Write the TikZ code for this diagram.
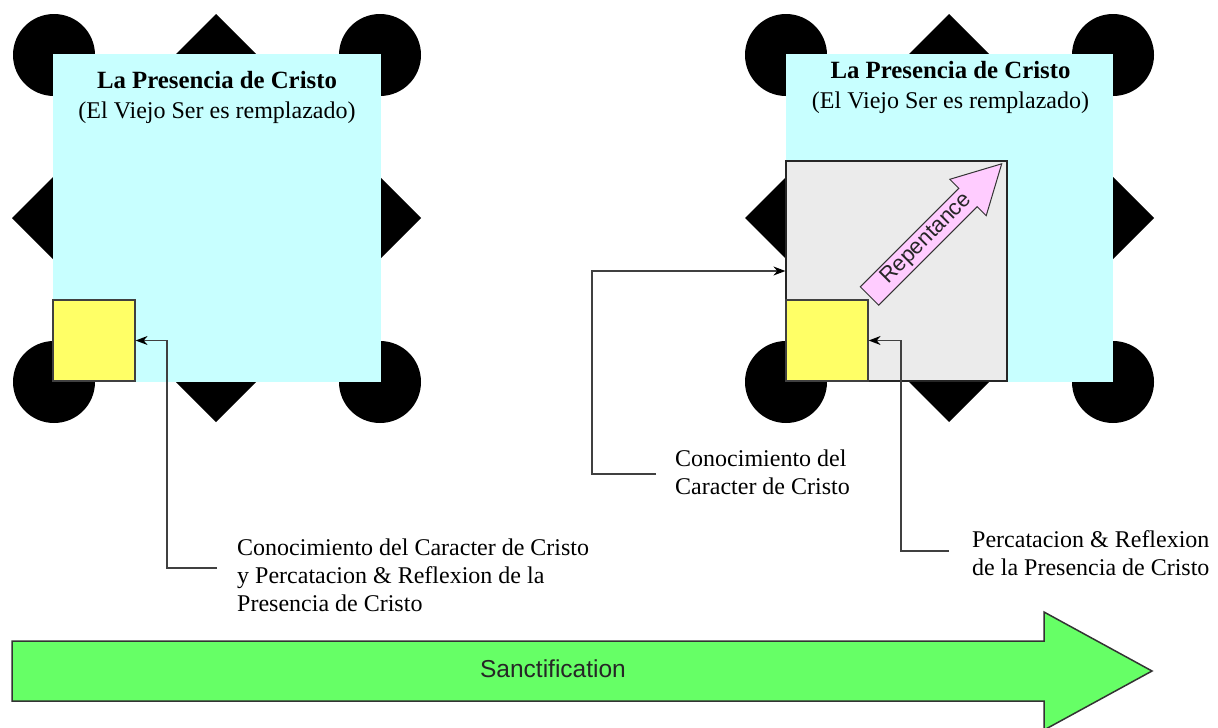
\documentclass[tikz,border=0pt]{standalone}
\usepackage{fontspec}
\setmainfont{Liberation Serif}
\newfontfamily\arialfont{Liberation Sans}
\usetikzlibrary{arrows.meta}
\definecolor{cyanbg}{HTML}{C8FFFF}
\definecolor{yel}{HTML}{FFFF66}
\definecolor{greybox}{HTML}{EBEBEB}
\definecolor{pinkar}{HTML}{FFCCFF}
\definecolor{greenar}{HTML}{66FF66}
\definecolor{lineg}{HTML}{404040}
\tikzset{
  cyanbox/.style={fill=cyanbg, draw=none, minimum width=328pt, minimum height=328pt, inner sep=0pt},
  yelbox/.style={fill=yel, draw=lineg, line width=1.2pt, minimum width=82pt, minimum height=81pt, inner sep=0pt},
  greyrect/.style={fill=greybox, draw=black!85, line width=1.2pt, minimum width=221pt, minimum height=220pt, inner sep=0pt},
  conn/.style={draw=lineg, line width=1.4pt, -{Stealth[length=12pt,width=9pt,color=black]}},
  titletxt/.style={font=\fontsize{24}{30}\selectfont, inner sep=0pt, anchor=base},
  lbl/.style={font=\fontsize{24}{28}\selectfont, inner sep=0pt, anchor=base west},
  blk/.style={fill=black},
}
\newcommand{\ornaments}[4]{% x0 y0 x1 y1 : square corners
  \fill[blk] (#1,#2) circle (41pt);
  \fill[blk] (#3,#2) circle (41pt);
  \fill[blk] (#1,#4) circle (41pt);
  \fill[blk] (#3,#4) circle (41pt);
}
\newcommand{\titleblock}{\begin{tabular}[t]{@{}c@{}}{\fontsize{24.8}{30}\selectfont\textbf{La Presencia de Cristo}}\\(El Viejo Ser es remplazado)\end{tabular}}
\begin{document}
\begin{tikzpicture}[x=1pt,y=-1pt]
\useasboundingbox (0,0) rectangle (1218,728);
% ---------- ornaments left
\ornaments{54}{55}{380}{382}
\fill[blk] (216,14) -- (256,54) -- (216,94) -- (176,54) -- cycle;
\fill[blk] (216,342) -- (256,382) -- (216,422) -- (176,382) -- cycle;
\fill[blk] (53,177) -- (94,218) -- (53,259) -- (12,218) -- cycle;
\fill[blk] (380,177) -- (421,218) -- (380,259) -- (339,218) -- cycle;
% ---------- ornaments right
\ornaments{786}{55}{1113}{382}
\fill[blk] (949,14) -- (989,54) -- (949,94) -- (909,54) -- cycle;
\fill[blk] (949,342) -- (989,382) -- (949,422) -- (909,382) -- cycle;
\fill[blk] (786,177) -- (827,218) -- (786,259) -- (745,218) -- cycle;
\fill[blk] (1113,177) -- (1154,218) -- (1113,259) -- (1072,218) -- cycle;
% ---------- left figure
\node[cyanbox] (cl) at (217,218) {};
\node[titletxt] (tl) at (217,88) {\titleblock};
\node[yelbox] (yl) at (94,340.5) {};
% ---------- right figure
\node[cyanbox, minimum width=327pt] (cr) at (949.5,218) {};
\node[titletxt] (tr) at (950.5,78) {\titleblock};
\node[greyrect] (gr) at (896.5,271) {};
\node[yelbox] (yr) at (827,340.5) {};
% Repentance arrow
\draw[fill=pinkar, draw=black!80, line width=1pt, line join=miter]
  (860.3,286.8) -- (958.8,188.3) -- (949.8,179.3) -- (1001.7,163.8) -- (986.2,215.7) -- (977.2,206.7) -- (878.7,305.2) -- cycle;
\node[font=\arialfont\fontsize{22}{24}\selectfont, rotate=45, inner sep=0pt, text=black!85] (rep) at (926.5,239) {Repentance};
% ---------- labels
\node[lbl] (l1) at (237,555) {\begin{tabular}[t]{@{}l@{}}Conocimiento del Caracter de Cristo\\y Percatacion \& Reflexion de la\\Presencia de Cristo\end{tabular}};
\node[lbl] (l2) at (675,466) {\begin{tabular}[t]{@{}l@{}}Conocimiento del\\Caracter de Cristo\end{tabular}};
\node[lbl] (l3) at (972,547) {\begin{tabular}[t]{@{}l@{}}Percatacion \& Reflexion\\de la Presencia de Cristo\end{tabular}};
% ---------- connectors
\coordinate (c1) at (217,568);
\coordinate (k1) at (167,568);
\draw[conn] (c1) -- (k1) |- (yl.east);
\coordinate (c2) at (656,474);
\coordinate (k2) at (592,474);
\draw[conn] (c2) -- (k2) |- (gr.west);
\coordinate (c3) at (949,551);
\coordinate (k3) at (901,551);
\draw[conn] (c3) -- (k3) |- (yr.east);
% ---------- Sanctification arrow
\draw[fill=greenar, draw=black!80, line width=1.5pt, line join=miter]
  (12,641) -- (1044,641) -- (1044,612) -- (1152,671) -- (1044,730) -- (1044,701) -- (12,701) -- cycle;
\node[font=\arialfont\fontsize{24.5}{28}\selectfont, inner sep=0pt, text=black!85] (sanct) at (553,669) {Sanctification};
\end{tikzpicture}
\end{document}
